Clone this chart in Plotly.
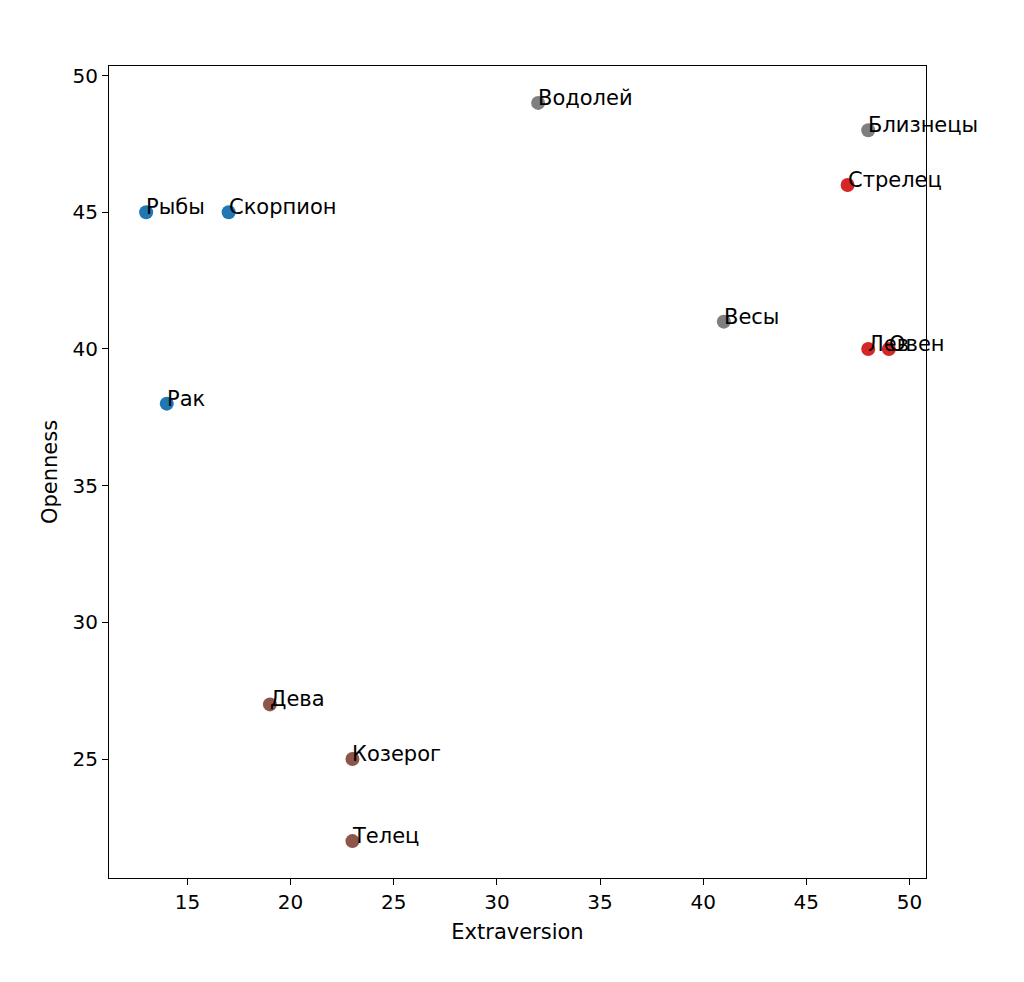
import plotly.graph_objects as go

signs = ["Рыбы", "Скорпион", "Рак", "Водолей", "Близнецы", "Весы",
         "Стрелец", "Лев", "Овен", "Дева", "Козерог", "Телец"]
extraversion = [13, 17, 14, 32, 48, 41, 47, 48, 49, 19, 23, 23]
openness = [45, 45, 38, 49, 48, 41, 46, 40, 40, 27, 25, 22]
groups = ["water", "water", "water", "air", "air", "air",
          "fire", "fire", "fire", "earth", "earth", "earth"]
group_colors = {"water": "#1f77b4", "air": "#7f7f7f", "fire": "#d62728", "earth": "#8c564b"}

x_ticks = [15, 20, 25, 30, 35, 40, 45, 50]
y_ticks = [25, 30, 35, 40, 45, 50]

FONT = "DejaVu Sans"
FS = 21

fig = go.Figure()
fig.add_trace(go.Scatter(
    x=extraversion, y=openness, mode="markers",
    marker=dict(size=14, color=[group_colors[g] for g in groups], line=dict(width=0)),
    showlegend=False, hoverinfo="text", text=signs,
))

annotations = []
for name, xv, yv in zip(signs, extraversion, openness):
    annotations.append(dict(
        x=xv, y=yv, xref="x", yref="y", text=name, showarrow=False,
        xanchor="left", yanchor="bottom", yshift=-9, xshift=-2,
        font=dict(family=FONT, size=FS, color="black"),
    ))

axis_common = dict(
    showgrid=False, zeroline=False, showline=True, linecolor="black", linewidth=1.2,
    mirror=True, ticks="outside", ticklen=6, tickwidth=1.2, tickcolor="black",
    tickfont=dict(family=FONT, size=20, color="black"),
)

fig.update_layout(
    width=1008, height=966,
    margin=dict(l=101, r=90, t=58, b=96),
    paper_bgcolor="white", plot_bgcolor="white",
    font=dict(family=FONT, size=FS, color="black"),
    annotations=annotations,
    xaxis=dict(range=[11.2, 50.8], tickvals=x_ticks,
               title=dict(text="Extraversion", font=dict(family=FONT, size=FS), standoff=11),
               **axis_common),
    yaxis=dict(range=[20.65, 50.35], tickvals=y_ticks,
               title=dict(text="Openness", font=dict(family=FONT, size=FS), standoff=9),
               **axis_common),
)

fig.write_html("out.html")
